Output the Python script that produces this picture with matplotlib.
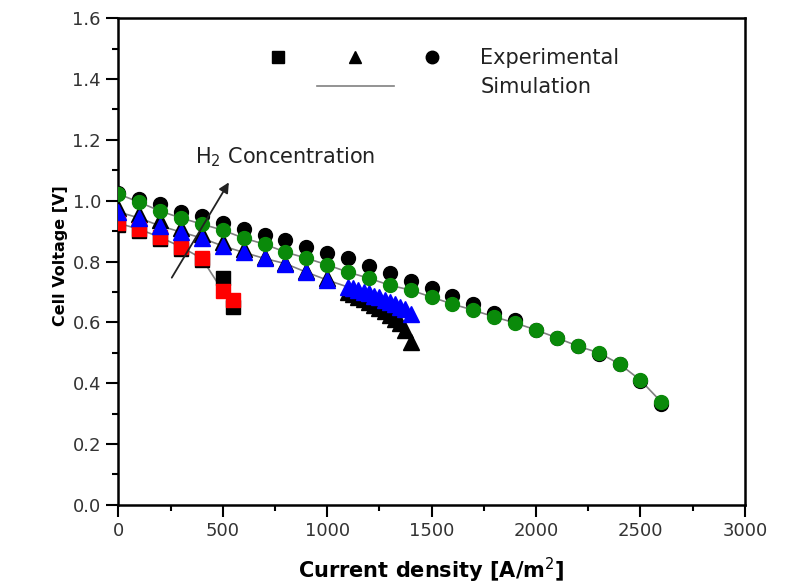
import numpy as np
import matplotlib
matplotlib.use("Agg")
import matplotlib.pyplot as plt
from matplotlib.lines import Line2D
from matplotlib.legend_handler import HandlerTuple
from matplotlib.ticker import MultipleLocator, FormatStrFormatter

plt.rcParams['font.family'] = ['DejaVu Sans']

# squares (lowest H2 concentration)
sq_x = [0, 100, 200, 300, 400, 500, 550]
sq_exp = [0.920, 0.900, 0.873, 0.840, 0.805, 0.745, 0.650]
sq_sim = [0.926, 0.906, 0.880, 0.848, 0.810, 0.703, 0.673]

# triangles
tri_x = [0, 100, 200, 300, 400, 500, 600, 700, 800, 900, 1000,
         1100, 1125, 1150, 1175, 1200, 1225, 1250, 1275, 1300, 1325, 1350, 1375, 1400]
tri_exp = [0.975, 0.955, 0.935, 0.910, 0.890, 0.865, 0.840, 0.815, 0.795, 0.770, 0.745,
           0.700, 0.692, 0.684, 0.676, 0.667, 0.657, 0.647, 0.637, 0.625, 0.612, 0.598, 0.575, 0.535]
tri_sim = [0.963, 0.943, 0.917, 0.897, 0.877, 0.851, 0.830, 0.810, 0.793, 0.765, 0.739,
           0.716, 0.712, 0.705, 0.700, 0.695, 0.688, 0.682, 0.675, 0.668, 0.660, 0.652, 0.645, 0.628]

# circles (highest H2 concentration)
ci_x = [0, 100, 200, 300, 400, 500, 600, 700, 800, 900, 1000, 1100, 1200,
        1300, 1400, 1500, 1600, 1700, 1800, 1900, 2000, 2100, 2200, 2300, 2400, 2500, 2600]
ci_exp = [1.025, 1.005, 0.990, 0.963, 0.949, 0.926, 0.906, 0.887, 0.870, 0.848, 0.828, 0.811, 0.785,
          0.762, 0.737, 0.713, 0.687, 0.660, 0.630, 0.608, 0.575, 0.549, 0.522, 0.496, 0.463, 0.407, 0.332]
ci_sim = [1.022, 0.995, 0.966, 0.943, 0.923, 0.903, 0.877, 0.857, 0.831, 0.811, 0.789, 0.765, 0.745,
          0.722, 0.706, 0.683, 0.660, 0.640, 0.618, 0.598, 0.575, 0.549, 0.522, 0.500, 0.463, 0.410, 0.338]

fig, ax = plt.subplots(figsize=(7.89, 5.87), dpi=100)
fig.subplots_adjust(left=0.15, right=0.944, top=0.969, bottom=0.14)

grey = '#808080'
ax.plot(sq_x, sq_sim, color=grey, lw=1.2, zorder=1)
ax.plot(tri_x, tri_sim, color=grey, lw=1.2, zorder=1)
ax.plot(ci_x, ci_sim, color=grey, lw=1.2, zorder=1)

ax.plot(sq_x, sq_exp, 's', color='black', ms=10, zorder=2)
ax.plot(tri_x, tri_exp, '^', color='black', ms=11, zorder=2)
ax.plot(ci_x, ci_exp, 'o', color='black', ms=10, zorder=2)

ax.plot(sq_x, sq_sim, 's', color='#ff0000', ms=10, zorder=3)
ax.plot(tri_x, tri_sim, '^', color='#0000ff', ms=11, zorder=3)
ax.plot(ci_x, ci_sim, 'o', color='#0a8a0a', ms=10, zorder=3)

# legend: three experimental markers, simulation line under the middle one
h_sq = Line2D([], [], marker='s', color='black', ls='none', ms=8)
h_tri = Line2D([], [], marker='^', color='black', ls='none', ms=9)
h_ci = Line2D([], [], marker='o', color='black', ls='none', ms=9)
h_none = Line2D([], [], ls='none')
h_line = Line2D([], [], color=grey, lw=1.2)
ax.legend([(h_sq, h_tri, h_ci), (h_none, h_line, h_none)],
          ['Experimental', 'Simulation'],
          handler_map={tuple: HandlerTuple(ndivide=None, pad=0)},
          loc='upper left', bbox_to_anchor=(0.177, 0.96), frameon=False,
          fontsize=15, handlelength=11.1, handletextpad=0.45, labelspacing=0.42,
          borderpad=0, labelcolor='#222222')

ax.annotate('', xy=(536, 1.068), xytext=(249, 0.739),
            arrowprops=dict(arrowstyle='-|>', color='#222222', lw=1.3, mutation_scale=15))
ax.text(368, 1.143, 'H$_2$ Concentration', fontsize=15, color='#222222',
        ha='left', va='center')

ax.set_xlim(0, 3000)
ax.set_ylim(0, 1.6)
ax.xaxis.set_major_locator(MultipleLocator(500))
ax.xaxis.set_minor_locator(MultipleLocator(250))
ax.yaxis.set_major_locator(MultipleLocator(0.2))
ax.yaxis.set_minor_locator(MultipleLocator(0.1))
ax.yaxis.set_major_formatter(FormatStrFormatter('%.1f'))
ax.tick_params(which='major', direction='out', length=8.5, width=1.5, labelsize=13,
               labelcolor='#333333', top=False, right=False, pad=4)
ax.tick_params(which='minor', direction='out', length=4.5, width=1.5, top=False, right=False)
for s in ax.spines.values():
    s.set_linewidth(1.8)

ax.set_xlabel('Current density [A/m$^2$]', fontsize=15, fontweight='bold', labelpad=11)
ax.set_ylabel('Cell Voltage [V]', fontsize=11.5, fontweight='bold')
ax.yaxis.set_label_coords(-0.08, 0.513)

fig.savefig('out.png', dpi=100)
